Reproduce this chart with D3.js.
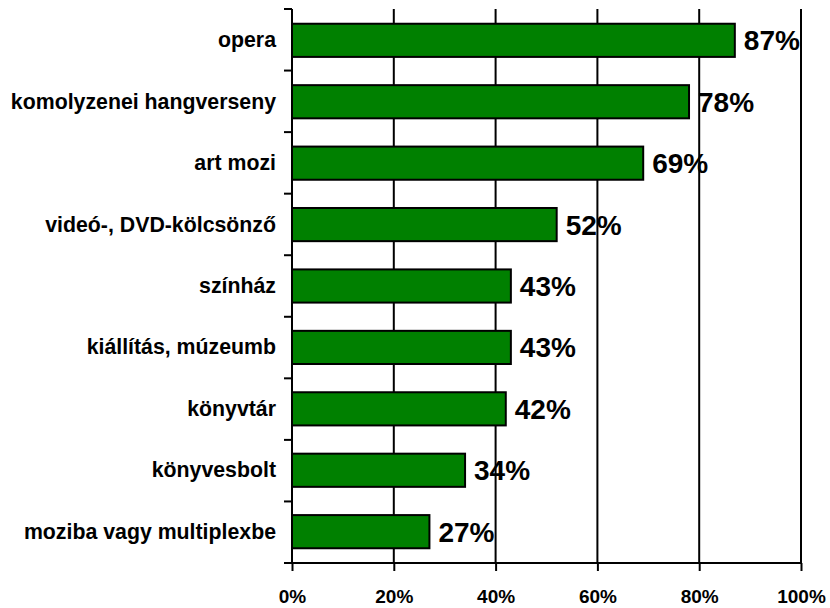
<!DOCTYPE html>
<html>
<head>
<meta charset="utf-8">
<script src="https://cdn.jsdelivr.net/npm/d3@7"></script>
<style>
  html, body { margin: 0; padding: 0; background: #fff; }
  svg { display: block; font-family: "Liberation Sans", Arial, Helvetica, sans-serif; font-weight: bold; }
</style>
</head>
<body>
<svg id="chart" width="830" height="608"></svg>
<script>
// Category names, top to bottom
const categories = [
  "opera",
  "komolyzenei hangverseny",
  "art mozi",
  "videó-, DVD-kölcsönző",
  "színház",
  "kiállítás, múzeumb",
  "könyvtár",
  "könyvesbolt",
  "moziba vagy multiplexbe"
];
// Share of respondents (%)
const values = [87, 78, 69, 52, 43, 43, 42, 34, 27];
// Percentage axis ticks
const tickValues = [0, 20, 40, 60, 80, 100];

const svg = d3.select("#chart");
const plotLeft = 292, plotRight = 801, plotTop = 9, plotBottom = 563;

const x = d3.scaleLinear().domain([0, 100]).range([plotLeft, plotRight]);
const y = d3.scaleBand().domain(categories).range([plotTop, plotBottom])
  .paddingInner(0.46).paddingOuter(0.24);

// Vertical gridlines
svg.append("g").selectAll("line")
  .data(tickValues.filter(d => d > 0))
  .join("line")
  .attr("x1", d => x(d)).attr("x2", d => x(d))
  .attr("y1", plotTop).attr("y2", plotBottom)
  .attr("stroke", "#000").attr("stroke-width", 2);

// Bars
svg.append("g").selectAll("rect")
  .data(values)
  .join("rect")
  .attr("x", x(0))
  .attr("y", (d, i) => y(categories[i]))
  .attr("width", d => x(d) - x(0))
  .attr("height", y.bandwidth())
  .attr("fill", "#008000")
  .attr("stroke", "#000")
  .attr("stroke-width", 2);

// Value labels
svg.append("g").selectAll("text")
  .data(values)
  .join("text")
  .attr("x", d => x(d) + 9)
  .attr("y", (d, i) => y(categories[i]) + y.bandwidth() / 2 + 10)
  .attr("font-size", 28)
  .attr("fill", "#000")
  .text(d => d + "%");

// Category axis: line, boundary ticks and labels
const bandH = (plotBottom - plotTop) / categories.length;
const yAxis = svg.append("g");
yAxis.append("line")
  .attr("x1", plotLeft).attr("x2", plotLeft)
  .attr("y1", plotTop).attr("y2", plotBottom)
  .attr("stroke", "#000").attr("stroke-width", 2);
yAxis.selectAll("line.tick")
  .data(d3.range(categories.length + 1))
  .join("line")
  .attr("class", "tick")
  .attr("x1", plotLeft - 8).attr("x2", plotLeft)
  .attr("y1", i => plotTop + i * bandH)
  .attr("y2", i => plotTop + i * bandH)
  .attr("stroke", "#000").attr("stroke-width", 2);
yAxis.selectAll("text")
  .data(categories)
  .join("text")
  .attr("x", 276)
  .attr("y", d => y(d) + y.bandwidth() / 2 + 7)
  .attr("text-anchor", "end")
  .attr("font-size", 21.3)
  .attr("fill", "#000")
  .text(d => d);

// Percentage axis
const xAxis = d3.axisBottom(x)
  .tickValues(tickValues)
  .tickSize(8)
  .tickPadding(0)
  .tickFormat(d => d + "%");
const gx = svg.append("g")
  .attr("transform", `translate(0,${plotBottom})`)
  .call(xAxis);
gx.select(".domain").attr("stroke", "#000").attr("stroke-width", 2)
  .attr("d", `M${plotLeft},0H${plotRight}`);
gx.selectAll(".tick line").attr("stroke", "#000").attr("stroke-width", 2);
gx.selectAll(".tick text")
  .attr("y", 40).attr("dy", null)
  .attr("font-size", 19)
  .attr("font-weight", "bold")
  .attr("font-family", "Liberation Sans, Arial, sans-serif")
  .attr("fill", "#000");
</script>
</body>
</html>
